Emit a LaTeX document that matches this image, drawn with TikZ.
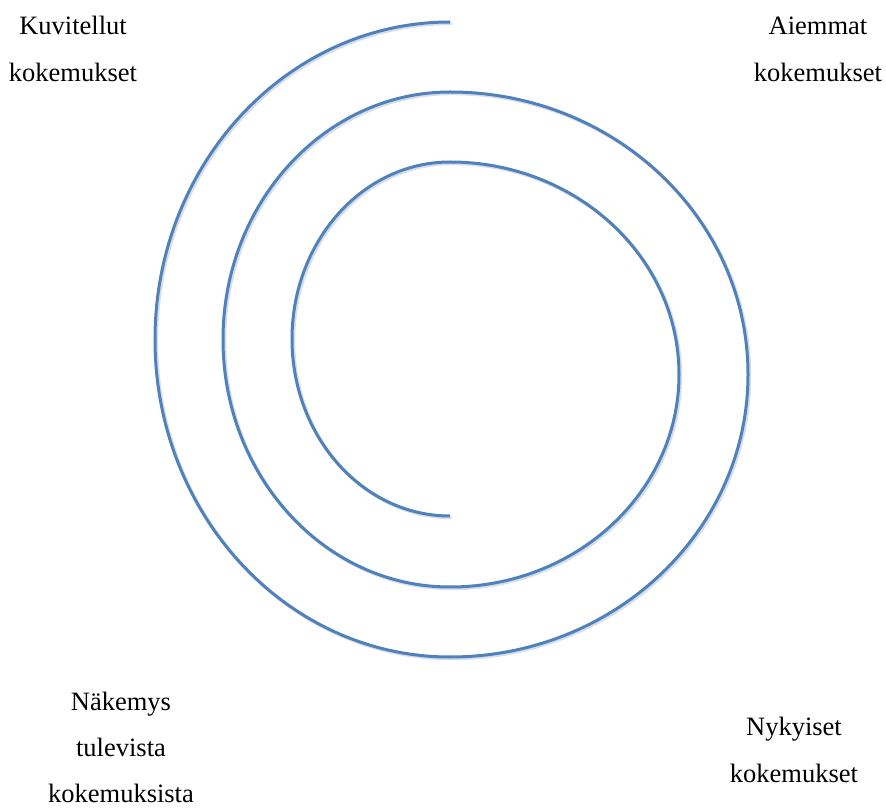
\documentclass[tikz,border=0pt]{standalone}
\usepackage{fontspec}
\setmainfont{Liberation Serif}
\definecolor{spiralblue}{RGB}{79,129,189}
\definecolor{shadowgray}{RGB}{190,200,215}
\tikzset{
  lbl/.style={anchor=base, inner sep=0pt, font=\fontsize{26.5}{30}\selectfont, text=black},
  spiral/.style={draw=spiralblue, line width=3pt, line cap=butt},
  spiralshadow/.style={draw=shadowgray, line width=3.4pt, opacity=0.6}
}
\begin{document}
\begin{tikzpicture}[x=1pt,y=1pt]
\fill[white] (0,0) rectangle (886,807);
\useasboundingbox (0,0) rectangle (886,807);
\coordinate (inner) at (450,291);
% shadow
\draw[spiralshadow] ([shift={(1.5,-1.5)}]inner)
  arc[start angle=270, end angle=90, x radius=158, y radius=177]
  arc[start angle=90, end angle=-90, x radius=229, y radius=212.5]
  arc[start angle=270, end angle=90, x radius=227, y radius=247.5]
  arc[start angle=90, end angle=-90, x radius=298, y radius=282.5]
  arc[start angle=270, end angle=90, x radius=295, y radius=317.5];
% spiral
\draw[spiral] (inner)
  arc[start angle=270, end angle=90, x radius=158, y radius=177]
  arc[start angle=90, end angle=-90, x radius=229, y radius=212.5]
  arc[start angle=270, end angle=90, x radius=227, y radius=247.5]
  arc[start angle=90, end angle=-90, x radius=298, y radius=282.5]
  arc[start angle=270, end angle=90, x radius=295, y radius=317.5] coordinate (outer);
% labels
\node[lbl] (k1) at (73,772) {Kuvitellut};
\node[lbl] (k2) at (73,725) {kokemukset};
\node[lbl] (a1) at (818,772) {Aiemmat};
\node[lbl] (a2) at (818,725) {kokemukset};
\node[lbl] (n1) at (121,97) {Näkemys};
\node[lbl] (n2) at (121,51) {tulevista};
\node[lbl] (n3) at (121,5) {kokemuksista};
\node[lbl] (y1) at (794,72) {Nykyiset};
\node[lbl] (y2) at (794,25) {kokemukset};
\end{tikzpicture}
\end{document}
